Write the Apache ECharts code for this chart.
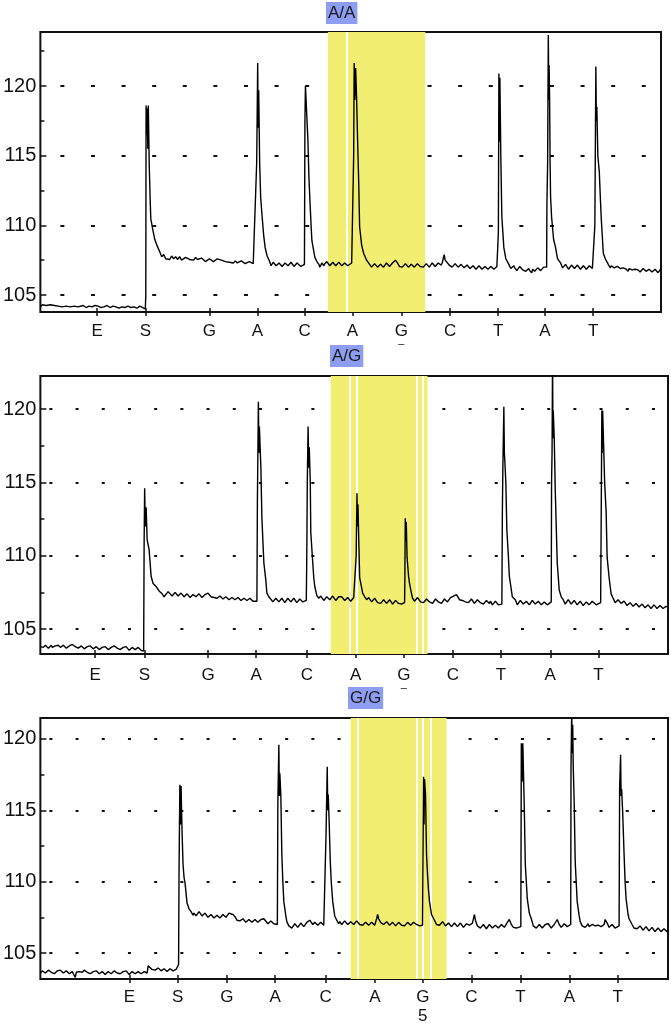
<!DOCTYPE html>
<html>
<head>
<meta charset="utf-8">
<script src="https://cdn.jsdelivr.net/npm/echarts@6/dist/echarts.min.js"></script>
<style>
html,body{margin:0;padding:0;background:#fff;}
#chart{width:671px;height:1026px;}
</style>
</head>
<body>
<div id="chart"></div>
<script>
// ---------------- DATA ----------------
const genotypes = ['A/A', 'A/G', 'G/G'];
const dispLetters = ['E', 'S', 'G', 'A', 'C', 'A', 'G', 'C', 'T', 'A', 'T'];
const snpIndex = 6;
const snpPosLabel = '5';
const yMajorTicks = [105, 110, 115, 120];
const yMinorTicks = [105, 107.5, 110, 112.5, 115, 117.5, 120, 122.5];

// dispensation times (arbitrary time units) per run
const p1Disp = [57, 105.7, 170, 218.3, 265.7, 313.7, 363, 412, 460.3, 507.3, 555.7];
const p2Disp = [55, 104.3, 168, 216.3, 267, 316, 364.3, 413.3, 461.7, 511, 559.3];
const p3Disp = [89.3, 137.7, 187, 235.3, 286, 335.3, 383.3, 432, 481, 530.3, 578.7];

// time span and signal range of each run
const p1Range = { t: [0, 624], y: [103.78, 123.88] };
const p2Range = { t: [0, 629], y: [103.3, 122.25] };
const p3Range = { t: [0, 629], y: [103.18, 121.47] };

// highlighted SNP region and separators
const p1Band = [289, 387]; const p1Seps = [308];
const p2Band = [291, 388]; const p2Seps = [310, 317, 377, 383];
const p3Band = [311, 407]; const p3Seps = [318, 377, 383, 391];

// pyrogram traces [time, signal]
const p1Trace = [
[0,104.15],[2,104.3],[4,104.2],[6,104.25],[8,104.15],[10,104.3],[12,104.2],[14,104.25],[16,104.15],[18,104.2],[20,104.3],[22,104.15],[24,104.25],[26,104.2],[28,104.3],[30,104.15],[32,104.25],[34,104.2],[36,104.3],[38,104.15],[40,104.2],[43,104.25],[46,104.1],[49,104.2],[52,104.15],[55,104.25],[58,104.2],[61,104.1],[64,104.15],[67,104.25],[70,104.1],[73,104.2],[76,104.15],[79,104.05],[82,104.15],[85,104.1],[88,104.2],[91,104.1],[94,104.15],[97,104.05],[100,104.2],[103,104.1],[105.5,104.0],
[106,105.0],[106.3,118.6],[107,116.5],[107.5,118.4],[108,115.5],[108.5,118.6],[109.5,114.2],[110.5,111.6],[111,110.5],[113,109.7],[115,109],[117,108.6],[120,108.1],[122,107.75],[124,107.9],[126,107.6],[128,107.7],[130,107.55],[132,107.8],[134,107.6],[136,107.75],[138,107.55],[140,107.75],[142,107.5],[144,107.6],[146,107.7],[148,107.8],[150,107.55],[152,107.65],[154,107.5],[156,107.7],[158,107.55],[160,107.5],[162,107.65],[164,107.6],[166,107.4],[168,107.45],[170,107.6],[172,107.55],[174,107.4],[176,107.5],[178,107.6],[180,107.7],[182,107.5],[184,107.55],[186,107.4],[188,107.5],[190,107.35],[192,107.4],[194,107.3],[196,107.45],[198,107.3],[200,107.35],[202,107.45],[204,107.4],[206,107.25],[208,107.3],[210,107.4],[212,107.35],[214,107.25],[216,107.2],
[217.5,114.5],[218.5,121.65],[219,117],[219.5,119.7],[220.5,114.5],[221.5,112],[223,110.6],[224.5,109.3],[226,108.4],[228,107.8],[230,107.5],[232,107.1],[234,107.35],[235,107.3],[237,107.1],[238,107.2],[240,107.3],[241,107.35],[243,107.05],[244,107.1],[246,107.3],[247,107.25],[249,107.1],[250,107.2],[252,107.35],[253,107.3],[255,107.05],[256,107.15],[258,107.3],[260,107.25],[262,107.05],[264,107.1],[265.5,107.2],
[266,117.5],[266.5,120.0],[268.5,120.0],[269,116.1],[270,113.5],[271,111.8],[272,110.3],[273,108.9],[275,108.1],[276,107.7],[278,107.4],[280,107.2],[281,107.0],[283,107.3],[285,107.1],[286,107.25],[288,107.4],[289,107.35],[291,107.1],[292,107.2],[294,107.35],[295,107.3],[297,107.1],[298,107.2],[300,107.35],[301,107.3],[303,107.1],[304,107.2],[306,107.3],[307,107.25],[309,107.1],[311,107.2],[313,107.3],[314.5,107.3],
[315,115],[315.5,121.65],[316.2,119],[317,121.3],[318,119.0],[319,116],[320,113.3],[321,109.9],[323,108.6],[325,108.0],[328,107.5],[331,107.2],[333,107.0],[334,107.1],[336,107.25],[337,107.2],[339,107.0],[340,107.05],[342,107.2],[343,107.15],[345,107.0],[346,107.1],[348,107.3],[349,107.25],[351,107.05],[352,107.15],[354,107.3],[355,107.35],[357,107.5],[359,107.3],[361,107.05],[362,107.15],[364,107.0],[365,107.1],[367,107.25],[368,107.2],[370,107.0],[371,107.05],[373,107.2],[374,107.15],[376,107.0],[377,107.1],[379,107.25],[380,107.2],[382,107.05],[383,107.15],[385,107.0],[386,107.1],[388,107.25],[389,107.2],[391,107.0],[392,107.1],[394,107.3],[395,107.25],[397,107.05],[398,107.15],[400,107.3],[401,107.25],[403,107.15],[404,107.3],[405,107.6],[406,107.9],[407,107.5],[409,107.4],[411,107.15],[412,107.25],[414,107.0],[415,107.1],[417,107.25],[418,107.2],[420,107.0],[421,107.05],[423,107.2],[424,107.1],[426,106.95],[427,107.0],[429,107.15],[430,107.05],[432,106.9],[433,106.95],[435,107.1],[436,107.0],[438,106.85],[439,106.95],[441,107.1],[442,107.05],[444,106.85],[445,106.9],[447,107.05],[448,107.0],[450,106.85],[451,106.9],[453,107.05],[454,106.95],[456,106.85],[457,106.9],[459,107.05],[460,107.0],
[460.5,109.5],[461,120.9],[461.5,116],[462,120.6],[463,114.7],[464,110.6],[466,108.4],[468,107.6],[471,107.2],[473,106.9],[474,107.0],[476,107.1],[477,106.95],[479,106.75],[480,106.85],[482,107.05],[483,107.0],[485,106.8],[486,106.9],[488,106.7],[489,106.8],[491,106.9],[492,106.75],[494,106.6],[495,106.85],[497,106.7],[498,106.75],[500,106.95],[501,106.9],[503,106.75],[504,106.85],[506,107.0],[507,106.95],[509,107.0],
[509.3,111.5],[510,114.4],[510.7,123.66],[511.2,119],[511.5,121.5],[512,119.0],[512.5,114.5],[513,112],[514,110.6],[516,109.0],[518,108.4],[520,107.6],[523,107.3],[525,106.95],[526,107.0],[528,107.2],[529,107.1],[531,106.85],[532,106.95],[534,107.15],[535,107.05],[537,106.9],[538,107.0],[540,107.15],[541,107.1],[543,106.85],[544,106.95],[546,107.1],[547,107.0],[549,106.85],[550,106.9],[552,107.1],[553,107.05],[555,106.9],[557,107.0],
[557.5,110],[558.5,121.4],[559,117.5],[559.5,118.5],[560.5,115],[562,113.8],[563,112],[564,110.4],[566,108.0],[568,107.6],[571,107.2],[573,106.95],[574,107.1],[576,107.05],[577,106.95],[579,106.85],[580,107.05],[582,106.95],[583,106.9],[585,106.8],[586,106.95],[588,106.9],[589,106.85],[591,106.7],[592,106.9],[594,106.85],[595,106.8],[597,106.7],[598,106.85],[600,106.9],[601,106.8],[603,106.65],[604,106.75],[606,106.9],[607,106.85],[609,106.7],[610,106.75],[612,106.85],[613,106.8],[615,106.65],[616,106.7],[618,106.85],[619,106.75],[621,106.6],[622,106.7],[624,106.9]
];

const p2Trace = [
[0,103.8],[2,103.7],[3,103.75],[5,103.9],[6,103.85],[8,103.7],[9,103.8],[11,103.9],[12,103.75],[14,103.7],[15,103.85],[17,103.95],[18,103.9],[20,103.75],[21,103.8],[23,103.9],[24,103.85],[26,103.7],[27,103.75],[29,103.85],[30,103.8],[32,103.95],[33,103.9],[35,103.8],[36,103.85],[38,103.7],[39,103.75],[41,103.85],[42,103.8],[44,103.65],[45,103.7],[47,103.8],[48,103.75],[50,103.85],[51,103.8],[53,103.65],[54,103.7],[56,103.8],[57,103.75],[59,103.6],[60,103.65],[62,103.75],[63,103.7],[65,103.8],[66,103.75],[68,103.6],[69,103.65],[71,103.75],[72,103.7],[74,103.85],[75,103.8],[77,103.7],[78,103.75],[80,103.6],[81,103.65],[83,103.75],[84,103.7],[86,103.8],[87,103.75],[89,103.55],[90,103.6],[92,103.75],[93,103.7],[95,103.6],[96,103.65],[98,103.75],[99,103.7],[101,103.55],[102,103.6],[103.5,103.5],
[104,111],[104.5,114.6],[105.2,112],[106,113.3],[107,111.1],[109,110.4],[110,109.5],[111,108.6],[113,108.1],[116,107.9],[119,107.6],[122,107.4],[124,107.2],[126,107.3],[128,107.55],[130,107.5],[132,107.25],[133,107.3],[135,107.5],[136,107.45],[138,107.25],[139,107.3],[141,107.45],[142,107.4],[144,107.2],[145,107.25],[147,107.4],[148,107.35],[150,107.15],[151,107.2],[153,107.35],[154,107.3],[156,107.2],[157,107.25],[159,107.4],[160,107.35],[162,107.15],[163,107.2],[165,107.35],[166,107.3],[168,107.45],[169,107.4],[171,107.2],[172,107.25],[174,107.15],[175,107.2],[177,107.1],[178,107.15],[180,107.25],[181,107.2],[183,107.05],[184,107.1],[186,107.2],[187,107.15],[189,107.0],[190,107.05],[192,107.15],[193,107.1],[195,107.0],[196,107.05],[198,107.15],[199,107.1],[201,106.95],[202,107.0],[204,107.1],[205,107.05],[207,106.95],[208,107.0],[210,107.1],[211,107.05],[213,106.9],[214,107.0],[217,106.9],
[217.5,113.7],[218.5,120.5],[219,117],[219.5,118.8],[220.5,118.8],[221,116],[222,112.6],[223,111],[224,109.5],[226,108.3],[227,107.45],[229,107.2],[231,107.1],[233,106.85],[234,106.95],[236,107.1],[237,107.05],[239,106.85],[240,106.95],[242,107.1],[243,107.0],[245,106.8],[246,106.9],[248,107.1],[249,107.05],[251,106.85],[252,106.95],[254,107.1],[255,107.0],[257,106.8],[258,106.9],[260,107.05],[261,107.0],[263,106.85],[264,106.95],[266.5,106.95],
[267,110],[267.5,115],[268.3,118.8],[269,116],[269.5,117.4],[270.5,115],[271,111.6],[273,109.5],[274,108.5],[275,107.9],[277,107.3],[279,107.1],[281,107.25],[282,107.2],[284,106.95],[285,107.05],[287,107.2],[288,107.15],[290,107.0],[291,107.1],[293,107.25],[294,107.2],[296,106.95],[297,107.05],[299,107.2],[300,107.1],[302,107.2],[303,107.15],[305,106.95],[306,107.0],[308,107.15],[309,107.1],[311,106.9],[312,107.0],[314,107.15],[316,107.05],
[316.5,110],[317.3,114.25],[317.8,112],[318.3,113.5],[319,111.3],[320,108.5],[322,107.8],[323,107.45],[325,107.2],[327,107.0],[329,107.15],[330,107.1],[332,106.85],[333,106.95],[335,107.1],[336,107.05],[338,106.8],[339,106.9],[341,106.75],[342,106.85],[344,107.0],[345,106.95],[347,106.75],[348,106.85],[350,107.0],[351,106.9],[353,106.7],[354,106.8],[356,106.95],[357,106.9],[359,106.75],[360,106.85],[362,106.7],[363,106.8],[365,106.8],
[365.3,108.5],[365.7,112.55],[366.2,111],[366.7,112.3],[367.5,109.9],[369,108.6],[370,108.1],[372,107.4],[373,107.1],[375,106.9],[376,107.0],[378,107.15],[379,107.05],[381,106.85],[382,106.95],[384,106.8],[385,106.9],[387,107.05],[388,107.0],[390,106.85],[391,106.95],[393,106.75],[394,106.85],[396,107.05],[397,107.0],[399,106.85],[400,106.95],[402,106.75],[403,106.85],[405,107.05],[406,107.0],[408,106.85],[409,106.95],[411,107.15],[412,107.1],[414,107.25],[415,107.2],[417,107.35],[418,107.3],[420,107.0],[421,107.1],[423,106.95],[424,107.05],[426,106.85],[427,106.95],[429,106.8],[430,106.9],[432,107.05],[433,107.0],[435,106.75],[436,106.85],[438,107.0],[439,106.95],[441,106.8],[442,106.9],[444,106.7],[445,106.8],[447,106.95],[448,106.85],[450,106.75],[451,106.9],[453,106.65],[454,106.75],[456,106.9],[457,106.8],[459,106.65],[460,106.75],[462.5,106.7],
[463,113],[463.5,116],[464.5,120.15],[465,117],[465.5,116.4],[466.5,115],[467.5,111.75],[469,110],[470,108.6],[473,107.2],[476,107.0],[478,106.65],[479,106.75],[481,106.95],[482,106.9],[484,106.7],[485,106.8],[487,106.9],[488,106.85],[490,106.65],[491,106.75],[493,106.95],[494,106.9],[496,106.7],[497,106.8],[499,106.9],[500,106.85],[502,106.65],[503,106.75],[505,106.85],[506,106.8],[508,106.65],[509,106.75],[512,106.85],
[512.3,115],[512.8,117],[513.3,123.5],[513.7,118],[514,119.9],[515,118],[516,114.5],[517,112],[518,109.5],[520,107.65],[522,107.2],[524,107.0],[526,106.7],[527,106.8],[529,107.0],[530,106.95],[532,106.7],[533,106.8],[535,106.95],[536,106.9],[538,106.65],[539,106.75],[541,106.9],[542,106.85],[544,106.6],[545,106.7],[547,106.85],[548,106.8],[550,106.65],[551,106.75],[553,106.9],[555,106.8],[557,106.65],[558,106.75],[561.5,106.8],
[562,112],[562.7,119.9],[563,117],[563.5,119.9],[564.5,117.5],[565.5,115],[567,113],[568,109.9],[570,108.5],[572,107.4],[574,107.1],[576,106.8],[577,106.9],[579,107.0],[580,106.95],[582,106.75],[583,106.8],[585,106.9],[586,106.85],[588,106.6],[589,106.7],[591,106.8],[592,106.75],[594,106.55],[595,106.65],[597,106.75],[598,106.7],[600,106.5],[601,106.6],[603,106.7],[604,106.65],[606,106.45],[607,106.55],[609,106.65],[610,106.6],[612,106.4],[613,106.5],[615,106.65],[616,106.6],[618,106.4],[619,106.5],[621,106.6],[622,106.55],[624,106.4],[625,106.45],[627,106.55],[629,106.5]
];

const p3Trace = [
[0,103.6],[2,103.75],[3,103.7],[5,103.6],[6,103.65],[8,103.8],[9,103.75],[11,103.65],[12,103.7],[14,103.55],[15,103.6],[17,103.75],[18,103.7],[20,103.8],[21,103.75],[23,103.6],[24,103.65],[26,103.75],[27,103.7],[29,103.55],[30,103.6],[32,103.7],[33,103.55],[35,103.3],[36,103.65],[38,103.75],[39,103.7],[41,103.6],[42,103.65],[44,103.8],[45,103.75],[47,103.65],[48,103.7],[50,103.55],[51,103.6],[53,103.7],[54,103.65],[56,103.75],[57,103.7],[59,103.55],[60,103.6],[62,103.7],[63,103.65],[65,103.5],[66,103.55],[68,103.7],[69,103.65],[71,103.55],[72,103.6],[74,103.75],[75,103.7],[77,103.6],[78,103.65],[80,103.55],[81,103.6],[83,103.7],[84,103.65],[86,103.75],[87,103.7],[89,103.5],[90,103.55],[92,103.7],[93,103.65],[95,103.55],[96,103.6],[98,103.7],[99,103.65],[101,103.55],[102,103.6],[104,103.7],[105,103.65],[107,103.6],[108,104.1],[110,104.0],[112,103.85],[113,103.9],[115,103.8],[116,103.85],[118,103.95],[119,103.9],[121,103.75],[122,103.8],[124,103.9],[125,103.85],[127,103.7],[128,103.75],[130,103.9],[131,103.85],[133,103.75],[134,103.8],[136,103.85],[138,103.9],
[138.5,104.2],[139,111],[139.8,116.8],[140.4,114],[141,116.7],[142,113.5],[143,111.2],[144,110.3],[145,109.9],[147,108.5],[149,108.1],[151,107.9],[153,107.65],[154,107.8],[156,107.6],[157,107.7],[159,107.9],[160,107.85],[162,107.6],[163,107.65],[165,107.8],[166,107.7],[168,107.5],[169,107.55],[171,107.7],[172,107.65],[174,107.45],[175,107.5],[177,107.65],[178,107.6],[180,107.45],[181,107.55],[183,107.7],[184,107.65],[186,107.5],[187,107.6],[189,107.8],[191,107.9],[193,107.7],[195,107.55],[197,107.3],[198,107.4],[200,107.25],[201,107.3],[203,107.4],[204,107.35],[206,107.15],[207,107.25],[209,107.35],[210,107.3],[212,107.15],[213,107.2],[215,107.35],[216,107.3],[218,107.15],[219,107.25],[221,107.35],[222,107.3],[224,107.4],[226,107.3],[228,107.05],[229,107.15],[231,107.25],[232,107.2],[234,107.05],[235,107.1],[237.5,107.0],
[238,115.5],[239,119.6],[239.5,116],[240,117.6],[241,116],[242,111.9],[243,110],[244,108.6],[246,107.6],[247,107.2],[249,106.9],[250,107.0],[252,106.75],[253,106.85],[255,107.05],[256,107.0],[258,106.8],[259,106.9],[261,107.1],[262,107.05],[264,106.85],[265,106.95],[267,107.15],[268,107.1],[270,107.3],[271,107.25],[273,107.0],[275,107.15],[276,107.1],[278,106.95],[279,107.05],[281,107.15],[282,107.1],[284,106.95],[286,107.0],
[286.3,113.3],[287.5,118.05],[288,115],[288.5,116.1],[289.5,114],[290.5,111.5],[291.5,110],[293,108.6],[295,107.6],[297,107.3],[299,107.05],[300,107.2],[302,107.0],[303,107.1],[305,107.25],[306,107.2],[308,107.0],[309,107.05],[311,107.2],[312,107.15],[314,107.0],[315,107.1],[317,107.25],[318,107.2],[320,107.0],[321,107.1],[323,106.95],[324,107.05],[326,107.15],[327,107.1],[329,106.95],[330,107.0],[332,107.15],[333,107.1],[335,106.95],[336,107.0],[337,107.4],[338,107.7],[339,107.4],[341,107.15],[342,107.2],[344,107.0],[345,107.1],[347,107.2],[348,107.15],[350,106.95],[351,107.05],[353,107.15],[354,107.1],[356,106.9],[357,107.0],[359,107.15],[360,107.1],[362,106.95],[363,107.05],[365,106.9],[366,107.0],[368,107.15],[369,107.1],[371,106.95],[372,107.05],[374,107.15],[375,107.2],[377,107.0],[378,107.1],[380,106.9],[381,107.0],[383,106.95],
[383.3,110],[384,117.35],[384.5,114],[385,117.2],[386,116.1],[387,111.9],[388,110.5],[389,109.4],[390,108.6],[392,107.7],[395,107.3],[397,107.0],[398,107.1],[400,106.95],[401,107.05],[403,107.2],[404,107.15],[406,106.9],[407,107.0],[409,107.1],[410,107.05],[412,106.85],[413,106.95],[415,107.1],[416,107.0],[418,106.85],[419,106.95],[421,107.1],[422,107.05],[424,106.8],[425,106.9],[427,107.05],[428,107.0],[430,106.95],[431,107.05],[433,107.1],[434,107.2],[435,107.7],[436,107.3],[438,106.9],[439,107.0],[441,106.75],[442,106.85],[444,107.0],[445,106.9],[447,106.7],[448,106.8],[450,107.0],[451,106.95],[453,106.75],[454,106.85],[456,106.95],[457,106.9],[459,106.75],[460,106.85],[462,107.0],[463,106.95],[465,106.8],[466,106.9],[468,107.15],[470,107.35],[472,107.0],[474,106.8],[475,106.9],[477,106.75],[478,106.85],[481.5,106.85],
[482,119.7],[482.8,117],[483.5,119.7],[484.5,119.7],[485,115.1],[486,111.2],[487,110],[488,108.8],[490,107.8],[492,107.4],[494,106.9],[495,107.0],[497,106.75],[498,106.85],[500,107.0],[501,106.95],[503,106.75],[504,106.85],[506,107.0],[507,106.9],[509,107.05],[510,106.95],[512,106.75],[513,106.85],[515,107.0],[516,107.05],[518,107.35],[520,107.0],[522,106.8],[523,106.9],[525,107.05],[526,107.0],[528,106.85],[529,106.95],[531.5,107.0],
[531.8,118],[532.5,122],[533,119],[533.5,121],[534,118.2],[535,115.5],[536,111.4],[537,110],[538,108.6],[540,107.6],[541,107.2],[543,106.9],[544,107.0],[546,106.8],[547,106.9],[549,107.05],[550,106.85],[552,106.75],[553,107.0],[555,107.05],[556,106.9],[558,106.8],[559,106.95],[561,107.05],[562,106.85],[564,106.9],[565,107.0],[566,107.35],[568,107.1],[570,106.8],[571,106.9],[573,107.0],[574,106.95],[576,106.75],[577,106.85],[580,106.9],
[580.5,116.5],[581.5,118.9],[582,116],[582.5,116.5],[583.5,115],[585,111.9],[586,110],[587,108.8],[589,107.7],[590,107.4],[593,107.0],[595,106.75],[596,106.85],[598,106.7],[599,106.75],[601,106.9],[602,106.8],[604,106.6],[605,106.7],[607,106.85],[608,106.75],[610,106.55],[611,106.65],[613,106.8],[614,106.7],[616,106.5],[617,106.6],[619,106.75],[620,106.65],[622,106.5],[623,106.55],[625,106.7],[626,106.6],[628,106.5],[629,106.55]
];

// ---------------- CHART ----------------
const chart = echarts.init(document.getElementById('chart'), null, { renderer: 'canvas' });
const FONT = '"Liberation Sans", Arial, sans-serif';
const YELLOW = '#f2ee72';
const BLUE = '#8d9ef2';

const panels = [
  { grid: { left: 37, top: 32, width: 624, height: 280 }, range: p1Range, disp: p1Disp, trace: p1Trace,
    band: p1Band, seps: p1Seps, title: { left: 326, top: 2 }, dash: [4, 26.6], dashOffset: 10.6, labelMargin: 10, snpMode: 'underline' },
  { grid: { left: 39, top: 376, width: 629, height: 278 }, range: p2Range, disp: p2Disp, trace: p2Trace,
    band: p2Band, seps: p2Seps, title: { left: 330, top: 345 }, dash: [3, 23.2], dashOffset: 17.2, labelMargin: 12, snpMode: 'underline' },
  { grid: { left: 39, top: 718, width: 629, height: 261 }, range: p3Range, disp: p3Disp, trace: p3Trace,
    band: p3Band, seps: p3Seps, title: { left: 348, top: 687 }, dash: [3, 23.2], dashOffset: 17.2, labelMargin: 9, snpMode: 'number' }
];

const option = {
  animation: false,
  backgroundColor: '#fff',
  title: [], grid: [], xAxis: [], yAxis: [], series: []
};

panels.forEach((p, i) => {
  option.title.push({
    text: genotypes[i], left: p.title.left, top: p.title.top,
    backgroundColor: BLUE, padding: [2, 2, 1, 2],
    textStyle: { fontFamily: FONT, fontSize: 17, fontWeight: 'normal', color: '#1a1a1a', lineHeight: 19 }
  });
  option.grid.push(Object.assign({ show: true, borderColor: '#111', borderWidth: 2, backgroundColor: 'transparent' }, p.grid));

  const disp = p.disp;
  option.xAxis.push({
    gridIndex: i, type: 'value', min: p.range.t[0], max: p.range.t[1],
    axisLine: { show: false },
    splitLine: { show: false },
    axisTick: { show: true, inside: false, length: 4, customValues: disp, lineStyle: { color: '#111', width: 1.5 } },
    axisLabel: {
      show: true, customValues: disp, margin: p.labelMargin, color: '#111',
      fontFamily: FONT, fontSize: 17, lineHeight: 19,
      formatter: function (v) {
        const k = disp.indexOf(v);
        if (k < 0) return '';
        if (k === snpIndex) {
          return p.snpMode === 'underline' ? '{g|' + dispLetters[k] + '}\n{u|–}' : '{g|' + dispLetters[k] + '}\n{n|' + snpPosLabel + '}';
        }
        return '{g|' + dispLetters[k] + '}';
      },
      rich: {
        g: { fontFamily: FONT, fontSize: 17, lineHeight: 19, color: '#111' },
        u: { fontFamily: FONT, fontSize: 11, lineHeight: 6, color: '#111' },
        n: { fontFamily: FONT, fontSize: 17, lineHeight: 19, color: '#111' }
      }
    }
  });
  option.xAxis.push({
    gridIndex: i, type: 'value', min: p.range.t[0], max: p.range.t[1], position: 'bottom',
    axisLine: { show: false }, splitLine: { show: false }, axisLabel: { show: false },
    axisTick: { show: true, inside: true, length: 4, customValues: disp, lineStyle: { color: '#111', width: 1.5 } }
  });
  option.yAxis.push({
    gridIndex: i, type: 'value', min: p.range.y[0], max: p.range.y[1],
    axisLine: { show: false },
    axisTick: { show: true, inside: true, length: 6, customValues: yMajorTicks, lineStyle: { color: '#111', width: 1.5 } },
    axisLabel: { show: true, customValues: yMajorTicks, margin: 4, color: '#111', fontFamily: FONT, fontSize: 20 },
    splitLine: { show: true, lineStyle: { color: '#111', width: 2, type: p.dash, dashOffset: p.dashOffset } }
  });
  option.yAxis.push({
    gridIndex: i, type: 'value', min: p.range.y[0], max: p.range.y[1], position: 'left',
    axisLine: { show: false }, splitLine: { show: false }, axisLabel: { show: false },
    axisTick: { show: true, inside: true, length: 4,
      customValues: yMinorTicks.filter(v => v > p.range.y[0] && v < p.range.y[1]),
      lineStyle: { color: '#111', width: 1.5 } }
  });

  option.series.push({
    type: 'line', xAxisIndex: 2 * i, yAxisIndex: 2 * i, z: 1, silent: true,
    data: p.trace, showSymbol: false, lineStyle: { opacity: 0 },
    markArea: { silent: true, itemStyle: { color: YELLOW, opacity: 1 }, data: [[{ xAxis: p.band[0] }, { xAxis: p.band[1] }]] },
    markLine: { silent: true, symbol: 'none', label: { show: false },
      lineStyle: { color: '#ffffff', width: 2, type: 'solid' },
      data: p.seps.map(s => ({ xAxis: s })) }
  });
  option.series.push({
    type: 'line', xAxisIndex: 2 * i, yAxisIndex: 2 * i, z: 5, silent: true,
    data: p.trace, showSymbol: false, clip: true,
    lineStyle: { color: '#000', width: 1.4 }
  });
});

chart.setOption(option);
</script>
</body>
</html>
